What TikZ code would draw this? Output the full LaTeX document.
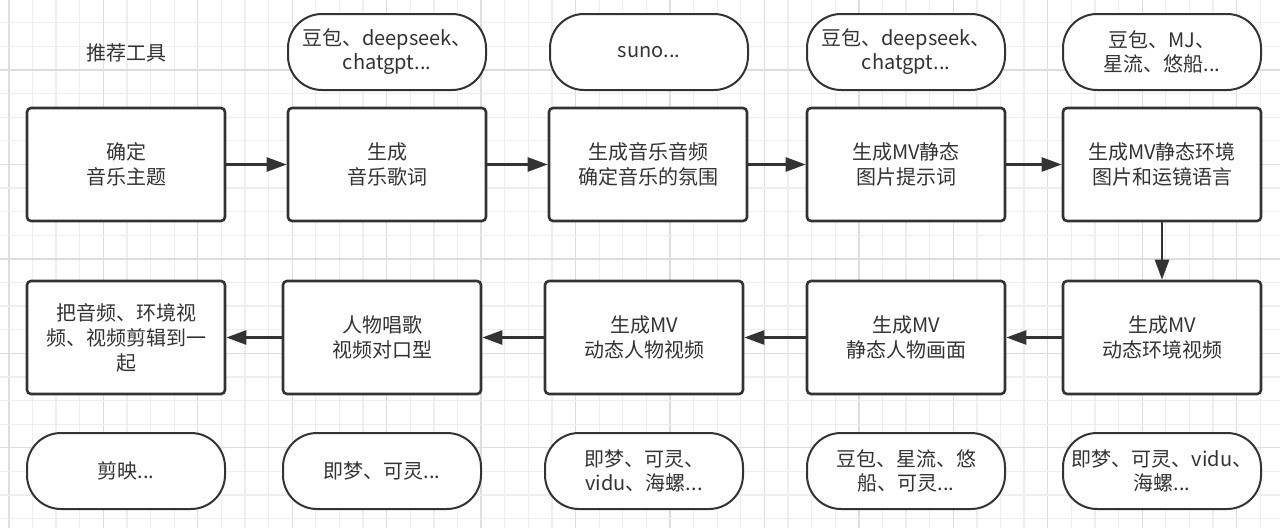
\documentclass[tikz,border=0pt]{standalone}
\usepackage{fontspec}
\setmainfont{Noto Sans CJK SC}
\usetikzlibrary{arrows.meta}
\definecolor{ink}{HTML}{333333}
\definecolor{gridminor}{HTML}{EEEEEE}
\definecolor{gridmajor}{HTML}{DDDDDD}
\tikzset{
  stepbox/.style={draw=ink, line width=2.6pt, rounded corners=4pt, fill=white,
    minimum width=198pt, minimum height=113pt, align=center, text=ink,
    font=\fontsize{20pt}{25pt}\selectfont, inner sep=2pt},
  toolpill/.style={draw=ink, line width=2pt, rounded corners=34pt, fill=white,
    minimum width=198pt, minimum height=76pt, align=center, text=ink,
    font=\fontsize{20pt}{24pt}\selectfont, inner sep=2pt},
  flow/.style={draw=ink, line width=2.6pt, -{Triangle[length=20pt,width=14pt]}},
}
\begin{document}
\begin{tikzpicture}[x=1pt,y=-1pt]
\useasboundingbox (0,0) rectangle (1280,528);
\fill[white] (0,0) rectangle (1280,528);
% grid
\foreach \k in {0,...,53} {
  \pgfmathsetmacro{\gx}{8.9+23.61*\k}
  \pgfmathtruncatemacro{\m}{mod(\k,4)}
  \ifnum\m=0
    \draw[gridmajor, line width=1.3pt] (\gx,0) -- (\gx,528);
  \else
    \draw[gridminor, line width=1.3pt] (\gx,0) -- (\gx,528);
  \fi
}
\foreach \k in {0,...,23} {
  \pgfmathsetmacro{\gy}{-0.83+23.61*\k}
  \pgfmathtruncatemacro{\m}{mod(\k,4)}
  \ifnum\m=3
    \draw[gridmajor, line width=1.3pt] (0,\gy) -- (1280,\gy);
  \else
    \draw[gridminor, line width=1.3pt] (0,\gy) -- (1280,\gy);
  \fi
}
% label
\node[text=ink, font=\fontsize{20pt}{25pt}\selectfont] (title) at (126,53) {推荐工具};
% top tool pills
\node[toolpill] (t2) at (387,52) {豆包、deepseek、\\chatgpt...};
\node[toolpill] (t3) at (649,52) {suno...};
\node[toolpill] (t4) at (906,52) {豆包、deepseek、\\chatgpt...};
\node[toolpill] (t5) at (1162,52) {豆包、MJ、\\星流、悠船...};
% top row
\node[stepbox] (a1) at (126,164.5) {确定\\音乐主题};
\node[stepbox] (a2) at (387,164.5) {生成\\音乐歌词};
\node[stepbox] (a3) at (648,164.5) {生成音乐音频\\确定音乐的氛围};
\node[stepbox] (a4) at (906,164.5) {生成MV静态\\图片提示词};
\node[stepbox] (a5) at (1162,164.5) {生成MV静态环境\\图片和运镜语言};
% bottom row
\node[stepbox] (b1) at (126,337.5) {把音频、环境视\\频、视频剪辑到一\\起};
\node[stepbox] (b2) at (382,337.5) {人物唱歌\\视频对口型};
\node[stepbox] (b3) at (644,337.5) {生成MV\\动态人物视频};
\node[stepbox] (b4) at (906,337.5) {生成MV\\静态人物画面};
\node[stepbox] (b5) at (1162,337.5) {生成MV\\动态环境视频};
% bottom tool pills
\node[toolpill] (u1) at (126,471) {剪映...};
\node[toolpill] (u2) at (382,471) {即梦、可灵...};
\node[toolpill] (u3) at (644,471) {即梦、可灵、\\vidu、海螺...};
\node[toolpill] (u4) at (906,471) {豆包、星流、悠\\船、可灵...};
\node[toolpill] (u5) at (1162,471) {即梦、可灵、vidu、\\海螺...};
% connectors
\draw[flow] (a1) -- (a2);
\draw[flow] (a2) -- (a3);
\draw[flow] (a3) -- (a4);
\draw[flow] (a4) -- (a5);
\draw[flow] (a5) -- (b5);
\draw[flow] (b5) -- (b4);
\draw[flow] (b4) -- (b3);
\draw[flow] (b3) -- (b2);
\draw[flow] (b2) -- (b1);
\end{tikzpicture}
\end{document}
